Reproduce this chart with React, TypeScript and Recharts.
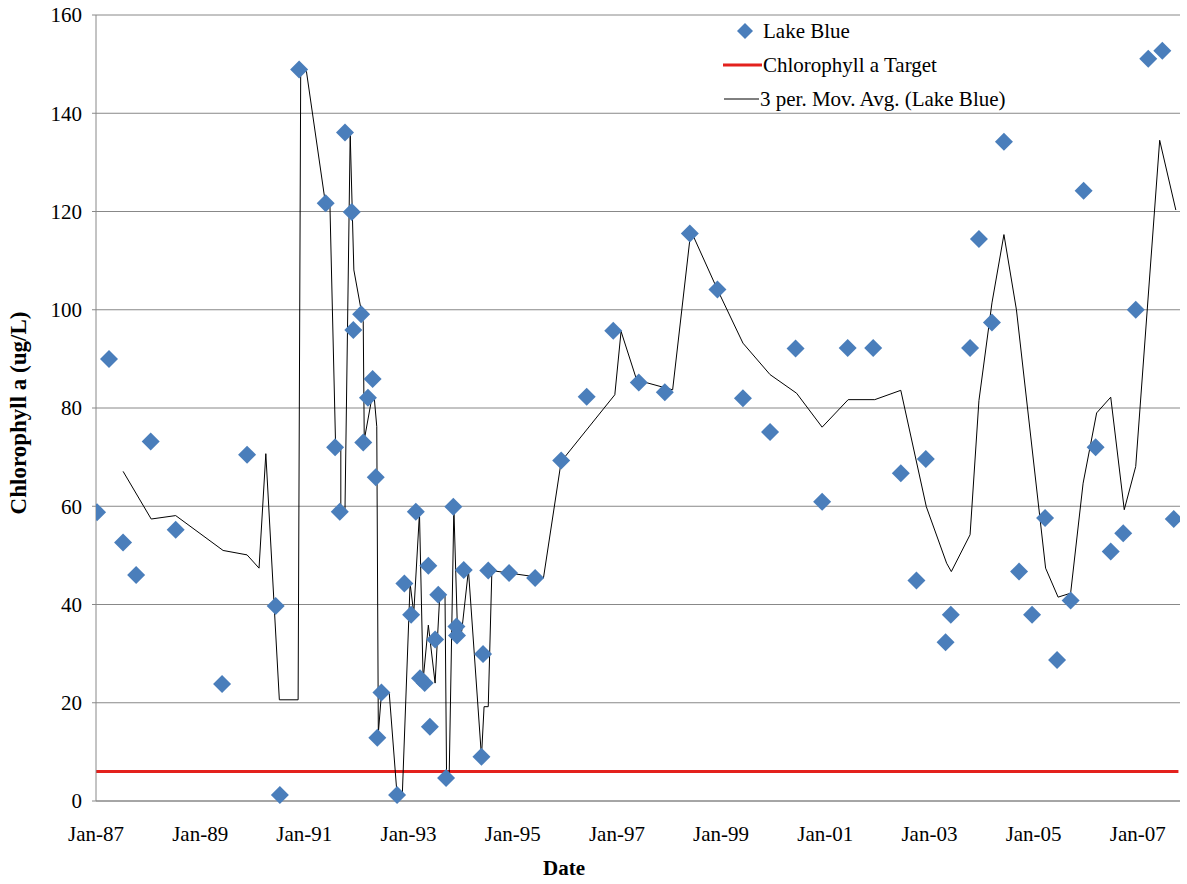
import { ComposedChart, Scatter, Line, XAxis, YAxis, CartesianGrid, Label } from 'recharts';

// Lake Blue samples (decimal year, chlorophyll a ug/L)
const lakeYears = [
  1987.02, 1987.25, 1987.52, 1987.77, 1988.05, 1988.53, 1989.42, 1989.9, 1990.45, 1990.53,
  1990.9, 1991.41, 1991.59, 1991.68, 1991.78, 1991.91, 1991.94, 1992.09, 1992.13, 1992.22,
  1992.31, 1992.37, 1992.4, 1992.48, 1992.78, 1992.92, 1993.05, 1993.14, 1993.22, 1993.31,
  1993.41, 1993.38, 1993.51, 1993.57, 1993.72, 1993.86, 1993.92, 1993.93, 1994.06, 1994.4,
  1994.43, 1994.53, 1994.93, 1995.43, 1995.93, 1996.42, 1996.93, 1997.42, 1997.92, 1998.4,
  1998.93, 1999.42, 1999.94, 2000.43, 2000.94, 2001.43, 2001.92, 2002.45, 2002.75, 2002.93,
  2003.31, 2003.41, 2003.78, 2003.95, 2004.2, 2004.43, 2004.72, 2004.97, 2005.22, 2005.45,
  2005.71, 2005.96, 2006.19, 2006.48, 2006.72, 2006.96, 2007.2, 2007.47, 2007.69,
];
const lakeValues = [
  58.8, 90.0, 52.6, 46.0, 73.2, 55.2, 23.8, 70.5, 39.7, 1.2,
  148.9, 121.7, 72.0, 58.9, 136.1, 119.9, 95.9, 99.1, 73.0, 82.1,
  85.9, 65.9, 12.9, 22.1, 1.2, 44.3, 37.9, 58.9, 25.0, 24.0,
  15.1, 47.9, 32.9, 42.0, 4.7, 59.9, 35.5, 33.7, 47.0, 9.0,
  29.9, 46.9, 46.4, 45.4, 69.3, 82.3, 95.7, 85.2, 83.2, 115.5,
  104.1, 82.0, 75.1, 92.1, 60.9, 92.2, 92.2, 66.7, 44.9, 69.6,
  32.3, 37.9, 92.2, 114.4, 97.4, 134.2, 46.7, 37.9, 57.6, 28.7,
  40.8, 124.2, 72.0, 50.8, 54.5, 100.0, 151.1, 152.7, 57.4,
];

// 3 per. moving average, vertices
const maYears = [
  1987.52, 1988.06, 1988.53, 1989.44, 1989.9, 1990.13, 1990.26, 1990.52, 1990.88, 1990.93,
  1991.04, 1991.4, 1991.49, 1991.6, 1991.7, 1991.7, 1991.78, 1991.88, 1991.95, 1992.13,
  1992.15, 1992.3, 1992.34, 1992.39, 1992.42, 1992.48, 1992.63, 1992.78, 1992.88, 1993.03,
  1993.1, 1993.21, 1993.28, 1993.38, 1993.51, 1993.6, 1993.7, 1993.73, 1993.78, 1993.87,
  1993.94, 1994.02, 1994.15, 1994.4, 1994.45, 1994.53, 1994.6, 1994.93, 1995.59, 1995.93,
  1996.96, 1997.08, 1997.38, 1998.07, 1998.42, 1998.93, 1999.42, 1999.94, 2000.45, 2000.94,
  2001.44, 2001.95, 2002.45, 2002.94, 2003.33, 2003.42, 2003.78, 2003.95, 2004.2, 2004.43,
  2004.67, 2005.23, 2005.47, 2005.71, 2005.95, 2006.21, 2006.48, 2006.74, 2006.96, 2007.42,
  2007.73,
];
const maValues = [
  67.1, 57.4, 58.1, 51.0, 50.1, 47.4, 70.7, 20.6, 20.6, 148.9,
  148.5, 122.0, 121.7, 72.2, 72.2, 59.3, 59.3, 135.8, 108.1, 97.6,
  73.5, 82.3, 82.3, 76.2, 13.8, 21.9, 21.9, 1.2, 1.2, 44.3,
  38.2, 58.6, 24.6, 35.8, 24.0, 42.0, 42.0, 5.0, 5.0, 59.6,
  34.5, 34.5, 47.0, 9.0, 19.2, 19.2, 46.9, 46.4, 45.4, 69.1,
  82.7, 95.6, 85.7, 83.7, 116.1, 104.1, 93.2, 86.8, 83.0, 76.1,
  81.7, 81.7, 83.6, 59.9, 48.4, 46.7, 54.2, 81.5, 101.4, 115.3,
  100.0, 47.4, 41.5, 42.3, 64.7, 79.0, 82.2, 59.3, 68.1, 134.5,
  120.3,
];

// Chlorophyll a target
const targetYears = [1987, 2007.78];
const targetValues = [6, 6];

const xTicks = [1987, 1989, 1991, 1993, 1995, 1997, 1999, 2001, 2003, 2005, 2007];
const xTickLabels = ['Jan-87', 'Jan-89', 'Jan-91', 'Jan-93', 'Jan-95', 'Jan-97', 'Jan-99', 'Jan-01', 'Jan-03', 'Jan-05', 'Jan-07'];
const yTicks = [0, 20, 40, 60, 80, 100, 120, 140, 160];

const lakeData = lakeYears.map((x, i) => ({ x, y: lakeValues[i] }));
const maData = maYears.map((x, i) => ({ x, y: maValues[i] }));
const targetData = targetYears.map((x, i) => ({ x, y: targetValues[i] }));

const FONT = 'Liberation Serif, DejaVu Serif, serif';
const BLUE = '#4A7EBB';

const Diamond = (props: any) => {
  const { cx, cy } = props;
  const r = 9;
  return <path d={`M${cx},${cy - r}L${cx + r},${cy}L${cx},${cy + r}L${cx - r},${cy}Z`} fill={BLUE} />;
};

const ChartLegend = () => (
  <div style={{ position: 'absolute', left: 715, top: 14, fontFamily: FONT, fontSize: 21, color: '#000' }}>
    <div style={{ display: 'flex', alignItems: 'center', height: 34 }}>
      <svg width={46} height={20}>
        <path d="M30,2L38,10L30,18L22,10Z" fill={BLUE} />
      </svg>
      <span style={{ marginLeft: 2 }}>Lake Blue</span>
    </div>
    <div style={{ display: 'flex', alignItems: 'center', height: 34 }}>
      <svg width={48} height={20}>
        <line x1={8} y1={10} x2={47} y2={10} stroke="#E3211D" strokeWidth={3} />
      </svg>
      <span>Chlorophyll a Target</span>
    </div>
    <div style={{ display: 'flex', alignItems: 'center', height: 34 }}>
      <svg width={45} height={20}>
        <line x1={9} y1={10} x2={44} y2={10} stroke="#000" strokeWidth={1} />
      </svg>
      <span>3 per. Mov. Avg. (Lake Blue)</span>
    </div>
  </div>
);

export default function App() {
  return (
    <div style={{ position: 'absolute', left: 0, top: 0, width: 1187, height: 884, background: '#fff', fontFamily: FONT }}>
      <ComposedChart width={1187} height={884} margin={{ top: 15, right: 7, bottom: 0, left: 0 }} style={{ fontFamily: FONT }}>
        <CartesianGrid horizontal vertical={false} stroke="#888" strokeWidth={1} />
        <XAxis
          dataKey="x"
          type="number"
          domain={[1987, 2007.81]}
          allowDataOverflow
          ticks={xTicks}
          tickFormatter={(v: number) => xTickLabels[xTicks.indexOf(v)] ?? ''}
          tickLine={false}
          tickSize={6}
          tickMargin={19}
          height={83}
          axisLine={{ stroke: '#888' }}
          tick={{ fontFamily: FONT, fontSize: 21, fill: '#000' }}
        >
          <Label
            content={() => (
              <text x={564} y={875} textAnchor="middle" fontFamily={FONT} fontSize={21} fontWeight="bold" fill="#000">
                Date
              </text>
            )}
          />
        </XAxis>
        <YAxis
          type="number"
          domain={[0, 160]}
          ticks={yTicks}
          width={96}
          tickSize={4}
          tickMargin={10}
          axisLine={{ stroke: '#888' }}
          tickLine={{ stroke: '#888' }}
          tick={{ fontFamily: FONT, fontSize: 21, fill: '#000' }}
        >
          <Label
            content={() => (
              <text
                x={0}
                y={0}
                transform="translate(26,413) rotate(-90)"
                textAnchor="middle"
                fontFamily={FONT}
                fontSize={23}
                fontWeight="bold"
                fill="#000"
              >
                Chlorophyll a (ug/L)
              </text>
            )}
          />
        </YAxis>
        <Scatter data={lakeData} dataKey="y" shape={Diamond} isAnimationActive={false} />
        <Line data={targetData} dataKey="y" stroke="#E3211D" strokeWidth={3} dot={false} isAnimationActive={false} />
        <Line data={maData} dataKey="y" stroke="#000" strokeWidth={1} dot={false} isAnimationActive={false} />
      </ComposedChart>
      <ChartLegend />
    </div>
  );
}
